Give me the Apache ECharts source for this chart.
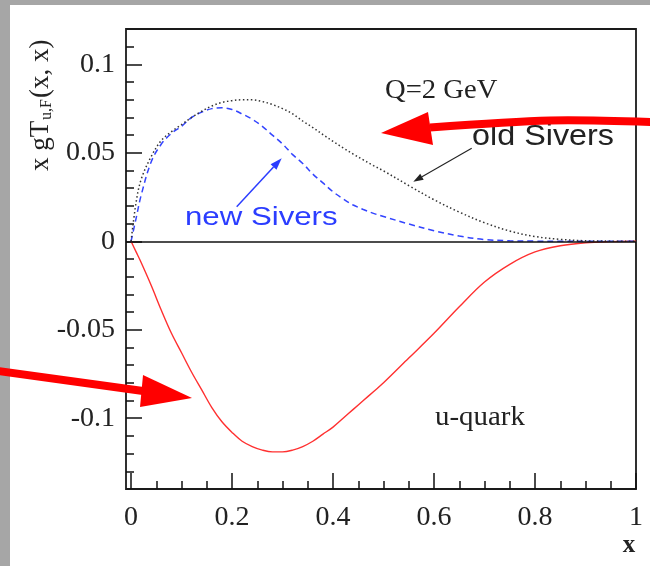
<!DOCTYPE html>
<html>
<head>
<meta charset="utf-8">
<script src="https://cdn.jsdelivr.net/npm/echarts@6/dist/echarts.min.js"></script>
<style>
html,body{margin:0;padding:0;background:#fff;}
#chart{width:650px;height:566px;}
</style>
</head>
<body>
<div id="chart"></div>
<script>
const xValues   = [0,0.01,0.02,0.04,0.06,0.08,0.1,0.12,0.14,0.16,0.18,0.2,0.22,0.24,0.26,0.28,0.3,0.32,0.34,0.36,0.38,0.4,0.42,0.44,0.46,0.48,0.5,0.55,0.6,0.65,0.7,0.75,0.8,0.85,0.9,0.95,1.0];
const uQuark    = [0,-0.006,-0.012,-0.025,-0.039,-0.052,-0.063,-0.074,-0.084,-0.094,-0.102,-0.108,-0.113,-0.116,-0.118,-0.119,-0.119,-0.118,-0.116,-0.113,-0.109,-0.105,-0.100,-0.095,-0.090,-0.085,-0.080,-0.066,-0.052,-0.037,-0.023,-0.013,-0.006,-0.0025,-0.0008,-0.0002,0];
const newSivers = [0,0.013,0.026,0.045,0.055,0.061,0.065,0.070,0.073,0.075,0.0755,0.0745,0.072,0.069,0.065,0.060,0.055,0.049,0.044,0.038,0.033,0.028,0.024,0.0205,0.018,0.0158,0.014,0.0098,0.006,0.003,0.001,0.0003,0.0001,0,0,0,0];
const oldSivers = [0,0.022,0.035,0.048,0.057,0.062,0.066,0.070,0.0735,0.0765,0.0785,0.0795,0.080,0.080,0.079,0.0773,0.075,0.072,0.068,0.0643,0.0603,0.0565,0.0528,0.0493,0.046,0.0428,0.0398,0.0315,0.0235,0.0165,0.0105,0.0058,0.0027,0.0011,0.0003,0.0001,0];

const xTickValues = [0,0.2,0.4,0.6,0.8,1];
const xTickLabels = ['0','0.2','0.4','0.6','0.8','1'];
const xMinorTicks = [0.05,0.1,0.15,0.25,0.3,0.35,0.45,0.5,0.55,0.65,0.7,0.75,0.85,0.9,0.95];
const yTickValues = [-0.1,-0.05,0,0.05,0.1];
const yTickLabels = ['-0.1','-0.05','0','0.05','0.1'];
const yMinorTicks = [-0.13,-0.12,-0.11,-0.09,-0.08,-0.07,-0.06,-0.04,-0.03,-0.02,-0.01,0.01,0.02,0.03,0.04,0.06,0.07,0.08,0.09,0.11];

const pair = arr => xValues.map((x,i)=>[x,arr[i]]);
const lookup = (vals, labels) => v => { const i = vals.findIndex(t=>Math.abs(t-v)<1e-9); return i>=0?labels[i]:''; };

const SERIF = '"Liberation Serif","DejaVu Serif",serif';
const SANS = '"Liberation Sans",Arial,sans-serif';

function smallArrow(x1,y1,x2,y2,color,lw,hl,hw){
  const dx=x2-x1, dy=y2-y1, L=Math.hypot(dx,dy), ux=dx/L, uy=dy/L;
  const bx=x2-ux*hl, by=y2-uy*hl, px=-uy, py=ux;
  return [
    {type:'polyline', z:50, shape:{points:[[x1,y1],[bx,by]]}, style:{stroke:color,lineWidth:lw,fill:null}},
    {type:'polygon', z:50, shape:{points:[[x2,y2],[bx+px*hw/2,by+py*hw/2],[bx-px*hw/2,by-py*hw/2]]}, style:{fill:color}}
  ];
}

const chart = echarts.init(document.getElementById('chart'), null, {renderer:'canvas'});
const tickStyle = {color:'#111', width:1.5};
chart.setOption({
  animation:false,
  backgroundColor:'#ffffff',
  grid:{left:126, right:14, top:29, bottom:77, show:true, borderColor:'#1a1a1a', borderWidth:1.8, backgroundColor:'transparent'},
  xAxis:[
    {type:'value', min:-0.01, max:1.0, position:'bottom', axisLine:{show:false, onZero:false}, splitLine:{show:false},
     axisTick:{show:true, inside:true, length:16, lineStyle:tickStyle, customValues:xTickValues},
     axisLabel:{show:true, margin:15, fontFamily:SERIF, fontSize:28, color:'#222', customValues:xTickValues, formatter:lookup(xTickValues,xTickLabels)}},
    {type:'value', min:-0.01, max:1.0, position:'bottom', axisLine:{show:false, onZero:false}, splitLine:{show:false},
     axisTick:{show:true, inside:true, length:8, lineStyle:tickStyle, customValues:xMinorTicks},
     axisLabel:{show:false}}
  ],
  yAxis:[
    {type:'value', min:-0.14, max:0.12, position:'left', axisLine:{show:false, onZero:false}, splitLine:{show:false},
     axisTick:{show:true, inside:true, length:16, lineStyle:tickStyle, customValues:yTickValues},
     axisLabel:{show:true, margin:11, fontFamily:SERIF, fontSize:28, color:'#222', customValues:yTickValues, formatter:lookup(yTickValues,yTickLabels)}},
    {type:'value', min:-0.14, max:0.12, position:'left', axisLine:{show:false, onZero:false}, splitLine:{show:false},
     axisTick:{show:true, inside:true, length:8, lineStyle:tickStyle, customValues:yMinorTicks},
     axisLabel:{show:false}}
  ],
  series:[
    {type:'line', name:'u-quark', data:pair(uQuark), xAxisIndex:0, yAxisIndex:0, showSymbol:false, smooth:0.35,
     lineStyle:{color:'#ff3030', width:1.4},
     markLine:{silent:true, symbol:['none','none'], label:{show:false}, lineStyle:{color:'#111', width:1.6, type:'solid'}, data:[{yAxis:0}]}},
    {type:'line', name:'new Sivers', data:pair(newSivers), xAxisIndex:0, yAxisIndex:0, showSymbol:false, smooth:0.35,
     lineStyle:{color:'#3344ff', width:1.5, type:[6,4]}},
    {type:'line', name:'old Sivers', data:pair(oldSivers), xAxisIndex:0, yAxisIndex:0, showSymbol:false, smooth:0.35,
     lineStyle:{color:'#333', width:1.5, type:[1.5,2.5]}}
  ],
  graphic:[
    {type:'rect', z:1, shape:{x:0,y:0,width:650,height:5}, style:{fill:'#a6a6a6'}},
    {type:'rect', z:1, shape:{x:0,y:0,width:10,height:566}, style:{fill:'#a6a6a6'}},
    {type:'group', x:41, y:171, rotation:Math.PI/2, children:[
      {type:'text', x:0, y:0, style:{text:'x gT', font:'27px '+SERIF, fill:'#222', textAlign:'left', textVerticalAlign:'middle'}},
      {type:'text', x:51, y:5.6, style:{text:'u,F', font:'16px '+SERIF, fill:'#222', textAlign:'left', textVerticalAlign:'middle'}},
      {type:'text', x:73, y:0, style:{text:'(x, x)', font:'27px '+SERIF, fill:'#222', textAlign:'left', textVerticalAlign:'middle'}}
    ]},
    {type:'text', x:629, y:546, style:{text:'x', font:'bold 25px '+SERIF, fill:'#222', textAlign:'center', textVerticalAlign:'middle'}},
    {type:'text', x:385, y:90.5, scaleX:1.06, style:{text:'Q=2 GeV', font:'27px '+SERIF, fill:'#222', textAlign:'left', textVerticalAlign:'middle'}},
    {type:'text', x:435, y:418, scaleX:1.07, style:{text:'u-quark', font:'27px '+SERIF, fill:'#222', textAlign:'left', textVerticalAlign:'middle'}},
    {type:'text', x:472, y:137, scaleX:1.115, style:{text:'old Sivers', font:'29px '+SANS, fill:'#222', textAlign:'left', textVerticalAlign:'middle'}},
    {type:'text', x:185, y:217.7, scaleX:1.2, style:{text:'new Sivers', font:'26px '+SANS, fill:'#2b3dff', textAlign:'left', textVerticalAlign:'middle'}},
    ...smallArrow(471.7,148.3,413.3,181.7,'#222',1.1,10,7),
    ...smallArrow(236.7,206.7,281.7,158.3,'#2b3dff',1.5,12,8),
    {type:'polyline', z:60, shape:{points:[[652,122],[550,120.5],[430,127.5]], smooth:0.3}, style:{stroke:'#ff0000', lineWidth:8, fill:null}},
    {type:'polygon', z:60, shape:{points:[[381,133],[428,112],[433,145]]}, style:{fill:'#ff0000'}},
    {type:'polyline', z:60, shape:{points:[[-2,371],[143,391]]}, style:{stroke:'#ff0000', lineWidth:8, fill:null}},
    {type:'polygon', z:60, shape:{points:[[192,398],[143,375],[140,407]]}, style:{fill:'#ff0000'}}
  ]
});
</script>
</body>
</html>
